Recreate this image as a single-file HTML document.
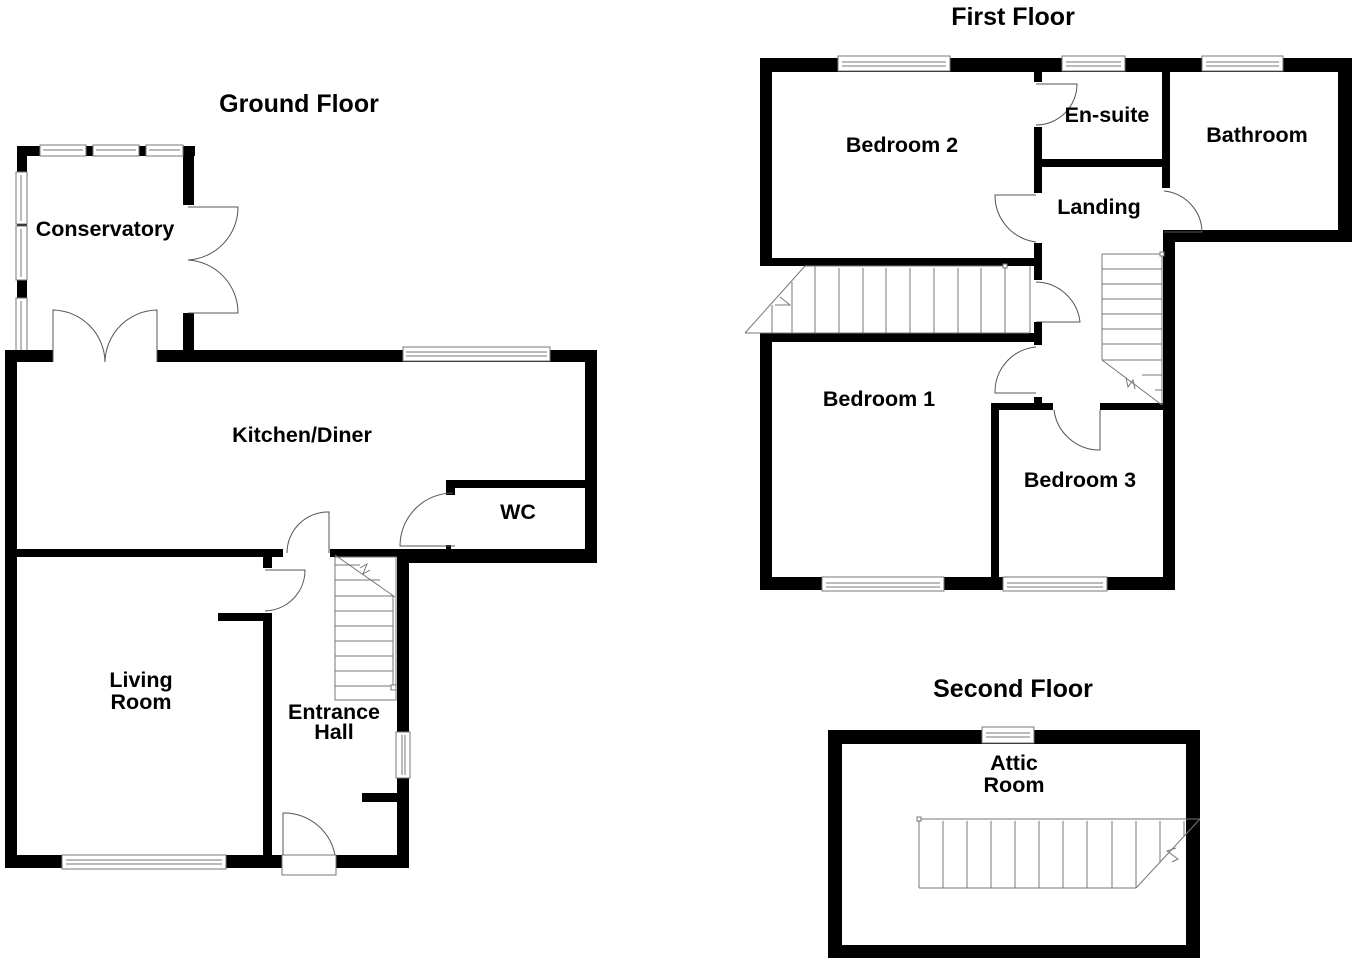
<!DOCTYPE html>
<html><head><meta charset="utf-8"><style>
html,body{margin:0;padding:0;background:#fff;}
svg{display:block;}
text{font-family:"Liberation Sans",Arial,sans-serif;font-weight:bold;fill:#000;text-anchor:middle;}
.t{font-size:25px;}
.r{font-size:21.5px;}
.w{fill:#000;}
.win{fill:#fff;stroke:#777;stroke-width:1;}
.ln{fill:none;stroke:#777;stroke-width:1;}
.dr{fill:none;stroke:#555;stroke-width:1;}
</style></head><body>
<svg width="1360" height="960" viewBox="0 0 1360 960" xmlns="http://www.w3.org/2000/svg">
<text class="t" x="299" y="112">Ground Floor</text>
<text class="t" x="1013" y="25">First Floor</text>
<text class="t" x="1013" y="697">Second Floor</text>

<!-- GROUND FLOOR -->
<rect class="w" x="17" y="146" width="178" height="10"/>
<rect class="w" x="17" y="146" width="10" height="212"/>
<rect class="w" x="183" y="146" width="11" height="59"/>
<rect class="w" x="183" y="313" width="11" height="45"/>
<rect class="win" x="40" y="145" width="46" height="11"/><line class="ln" x1="43" y1="150" x2="83" y2="150"/>
<rect class="win" x="93" y="145" width="46" height="11"/><line class="ln" x1="96" y1="150" x2="136" y2="150"/>
<rect class="win" x="146" y="145" width="37" height="11"/><line class="ln" x1="149" y1="150" x2="180" y2="150"/>
<rect class="win" x="16" y="172" width="11" height="52"/><line class="ln" x1="21" y1="175" x2="21" y2="221"/>
<rect class="win" x="16" y="226" width="11" height="54"/><line class="ln" x1="21" y1="229" x2="21" y2="277"/>
<rect class="win" x="16" y="298" width="11" height="60"/><line class="ln" x1="21" y1="301" x2="21" y2="355"/>
<path class="dr" d="M188 207 L238 207 A53 53 0 0 1 188 260"/>
<path class="dr" d="M188 313 L238 313 A53 53 0 0 0 188 260"/>
<rect class="w" x="5" y="350" width="48" height="12"/>
<rect class="w" x="157" y="350" width="440" height="12"/>
<rect class="w" x="5" y="350" width="12" height="518"/>
<rect class="w" x="585" y="350" width="12" height="213"/>
<rect class="win" x="403" y="347" width="147" height="14"/><line class="ln" x1="406" y1="352" x2="547" y2="352"/><line class="ln" x1="406" y1="356" x2="547" y2="356"/>
<path class="dr" d="M53 362 L53 310 A53 53 0 0 1 105 362"/>
<path class="dr" d="M157 362 L157 310 A53 53 0 0 0 105 362"/>
<rect class="w" x="446" y="480" width="145" height="8"/>
<rect class="w" x="446" y="480" width="9" height="15"/>
<rect class="w" x="446" y="545" width="5" height="8"/>
<path class="dr" d="M455 546 L400 546 A53 53 0 0 1 453 493"/>
<rect class="w" x="5" y="549" width="278" height="8"/>
<rect class="w" x="330" y="549" width="67" height="8"/>
<rect class="w" x="397" y="549" width="200" height="14"/>
<path class="dr" d="M329 553 L329 512 A41 41 0 0 0 287 553"/>
<rect class="w" x="397" y="549" width="12" height="183"/>
<rect class="w" x="397" y="778" width="12" height="90"/>
<rect class="win" x="396" y="732" width="14" height="46"/><line class="ln" x1="402" y1="735" x2="402" y2="775"/><line class="ln" x1="405" y1="735" x2="405" y2="775"/>
<rect class="w" x="362" y="793" width="40" height="9"/>
<rect class="w" x="263" y="553" width="9" height="15"/>
<path class="dr" d="M265 570 L305 570 A41 41 0 0 1 265 611"/>
<rect class="w" x="263" y="613" width="9" height="245"/>
<rect class="w" x="218" y="613" width="54" height="8"/>
<rect class="w" x="5" y="855" width="278" height="13"/>
<rect class="w" x="336" y="855" width="73" height="13"/>
<rect class="win" x="62" y="855" width="164" height="14"/><line class="ln" x1="66" y1="860" x2="222" y2="860"/><line class="ln" x1="66" y1="864" x2="222" y2="864"/>
<path class="dr" d="M283 855 L283 813 A52 52 0 0 1 335 855"/>
<rect class="win" x="282" y="855" width="54" height="20"/>
<g class="ln">
<rect x="335" y="557" width="61" height="143" fill="none"/>
<path d="M335 555 L395 597" fill="none"/>
<line x1="335" y1="565" x2="360" y2="565"/><line x1="335" y1="580" x2="380" y2="580"/>
<line x1="335" y1="596" x2="393" y2="596"/><line x1="335" y1="611" x2="393" y2="611"/>
<line x1="335" y1="626" x2="393" y2="626"/><line x1="335" y1="641" x2="393" y2="641"/>
<line x1="335" y1="656" x2="393" y2="656"/><line x1="335" y1="671" x2="393" y2="671"/>
<line x1="335" y1="686" x2="393" y2="686"/>
<line x1="393" y1="596" x2="393" y2="686"/>
<path d="M360 568 L367 564 L363 574 L370 570" fill="none"/>
</g>
<rect class="win" x="391" y="685" width="5" height="5"/>

<text class="r" x="302" y="442">Kitchen/Diner</text>
<text class="r" x="105" y="236">Conservatory</text>
<text class="r" x="518" y="519">WC</text>
<text class="r" x="141" y="687">Living</text>
<text class="r" x="141" y="709">Room</text>
<text class="r" x="334" y="719">Entrance</text>
<text class="r" x="334" y="739">Hall</text>

<!-- FIRST FLOOR -->
<rect class="w" x="760" y="58" width="592" height="14"/>
<rect class="w" x="760" y="58" width="12" height="208"/>
<rect class="w" x="760" y="333" width="12" height="257"/>
<rect class="w" x="1338" y="58" width="14" height="184"/>
<rect class="w" x="1163" y="230" width="189" height="12"/>
<rect class="w" x="1163" y="230" width="12" height="360"/>
<rect class="w" x="760" y="577" width="415" height="13"/>
<rect class="win" x="838" y="56" width="112" height="15"/><line class="ln" x1="842" y1="62" x2="946" y2="62"/><line class="ln" x1="842" y1="66" x2="946" y2="66"/>
<rect class="win" x="1062" y="56" width="63" height="15"/><line class="ln" x1="1066" y1="62" x2="1121" y2="62"/><line class="ln" x1="1066" y1="66" x2="1121" y2="66"/>
<rect class="win" x="1202" y="56" width="81" height="15"/><line class="ln" x1="1206" y1="62" x2="1279" y2="62"/><line class="ln" x1="1206" y1="66" x2="1279" y2="66"/>
<rect class="win" x="822" y="577" width="122" height="14"/><line class="ln" x1="826" y1="583" x2="940" y2="583"/><line class="ln" x1="826" y1="587" x2="940" y2="587"/>
<rect class="win" x="1003" y="577" width="104" height="14"/><line class="ln" x1="1007" y1="583" x2="1103" y2="583"/><line class="ln" x1="1007" y1="587" x2="1103" y2="587"/>
<rect class="w" x="1034" y="72" width="8" height="10"/>
<path class="dr" d="M1036 84 L1077 84 A41 41 0 0 1 1036 125"/>
<rect class="w" x="1034" y="127" width="8" height="66"/>
<path class="dr" d="M1036 195 L995 195 A47 47 0 0 0 1036 242"/>
<rect class="w" x="1034" y="243" width="8" height="37"/>
<path class="dr" d="M1036 282 A45 45 0 0 1 1080 322 L1036 322"/>
<rect class="w" x="1034" y="322" width="8" height="23"/>
<path class="dr" d="M1036 347 A45 45 0 0 0 995 393 L1036 393"/>
<rect class="w" x="1034" y="397" width="8" height="13"/>
<rect class="w" x="1042" y="159" width="121" height="8"/>
<rect class="w" x="1162" y="72" width="8" height="116"/>
<path class="dr" d="M1164 191 A42 42 0 0 1 1202 232 L1164 232"/>
<rect class="w" x="772" y="258" width="262" height="8"/>
<rect class="w" x="772" y="333" width="262" height="9"/>
<rect class="w" x="991" y="403" width="62" height="7"/>
<rect class="w" x="1100" y="403" width="63" height="7"/>
<rect class="w" x="991" y="403" width="8" height="180"/>
<path class="dr" d="M1054 410 A46 46 0 0 0 1100 450 L1100 410"/>
<g class="ln">
<polyline points="745,333 1030,333" fill="none"/>
<polyline points="805,266 1005,266" fill="none"/>
<line x1="1030" y1="266" x2="1030" y2="333"/>
<line x1="805" y1="266" x2="745" y2="333"/>
<line x1="839" y1="268" x2="839" y2="333"/><line x1="863" y1="268" x2="863" y2="333"/>
<line x1="886" y1="268" x2="886" y2="333"/><line x1="910" y1="268" x2="910" y2="333"/>
<line x1="934" y1="268" x2="934" y2="333"/><line x1="958" y1="268" x2="958" y2="333"/>
<line x1="981" y1="268" x2="981" y2="333"/><line x1="1005" y1="268" x2="1005" y2="333"/>
<line x1="815" y1="266" x2="815" y2="333"/><line x1="792" y1="282" x2="792" y2="333"/>
<line x1="772" y1="305" x2="772" y2="333"/>
<path d="M780 297 L790 305 L775 305" fill="none"/>
</g>
<rect class="win" x="1003" y="264" width="4" height="4"/>
<g class="ln">
<line x1="1102" y1="254" x2="1162" y2="254"/>
<line x1="1102" y1="254" x2="1102" y2="360"/>
<line x1="1162" y1="254" x2="1162" y2="405"/>
<line x1="1102" y1="269" x2="1162" y2="269"/><line x1="1102" y1="284" x2="1162" y2="284"/>
<line x1="1102" y1="299" x2="1162" y2="299"/><line x1="1102" y1="314" x2="1162" y2="314"/>
<line x1="1102" y1="329" x2="1162" y2="329"/><line x1="1102" y1="344" x2="1162" y2="344"/>
<line x1="1102" y1="360" x2="1162" y2="360"/><line x1="1102" y1="360" x2="1162" y2="405"/>
<line x1="1142" y1="375" x2="1162" y2="375"/><line x1="1155" y1="390" x2="1162" y2="390"/>
<path d="M1126 378 L1128 387 L1133 380 L1135 389" fill="none"/>
</g>
<rect class="win" x="1160" y="252" width="4" height="4"/>

<text class="r" x="902" y="152">Bedroom 2</text>
<text class="r" x="1107" y="122">En-suite</text>
<text class="r" x="1257" y="142">Bathroom</text>
<text class="r" x="1099" y="214">Landing</text>
<text class="r" x="879" y="406">Bedroom 1</text>
<text class="r" x="1080" y="487">Bedroom 3</text>

<!-- SECOND FLOOR -->
<rect class="w" x="828" y="730" width="372" height="14"/>
<rect class="w" x="828" y="730" width="14" height="228"/>
<rect class="w" x="1186" y="730" width="14" height="228"/>
<rect class="w" x="828" y="945" width="372" height="13"/>
<rect class="win" x="982" y="727" width="52" height="16"/><line class="ln" x1="986" y1="733" x2="1030" y2="733"/><line class="ln" x1="986" y1="737" x2="1030" y2="737"/>
<g class="ln">
<line x1="919" y1="819" x2="1200" y2="819"/>
<line x1="919" y1="821" x2="919" y2="888"/>
<line x1="919" y1="888" x2="1136" y2="888"/>
<line x1="1136" y1="888" x2="1200" y2="819"/>
<line x1="943" y1="821" x2="943" y2="888"/><line x1="967" y1="821" x2="967" y2="888"/>
<line x1="991" y1="821" x2="991" y2="888"/><line x1="1015" y1="821" x2="1015" y2="888"/>
<line x1="1039" y1="821" x2="1039" y2="888"/><line x1="1063" y1="821" x2="1063" y2="888"/>
<line x1="1087" y1="821" x2="1087" y2="888"/><line x1="1112" y1="821" x2="1112" y2="888"/>
<line x1="1136" y1="821" x2="1136" y2="888"/><line x1="1160" y1="821" x2="1160" y2="862"/>
<line x1="1184" y1="821" x2="1184" y2="836"/>
<path d="M1176 848 L1167 851 L1178 859 L1172 862" fill="none"/>
</g>
<rect class="win" x="917" y="817" width="4" height="4"/>
<text class="r" x="1014" y="770">Attic</text>
<text class="r" x="1014" y="792">Room</text>
</svg>
</body></html>
